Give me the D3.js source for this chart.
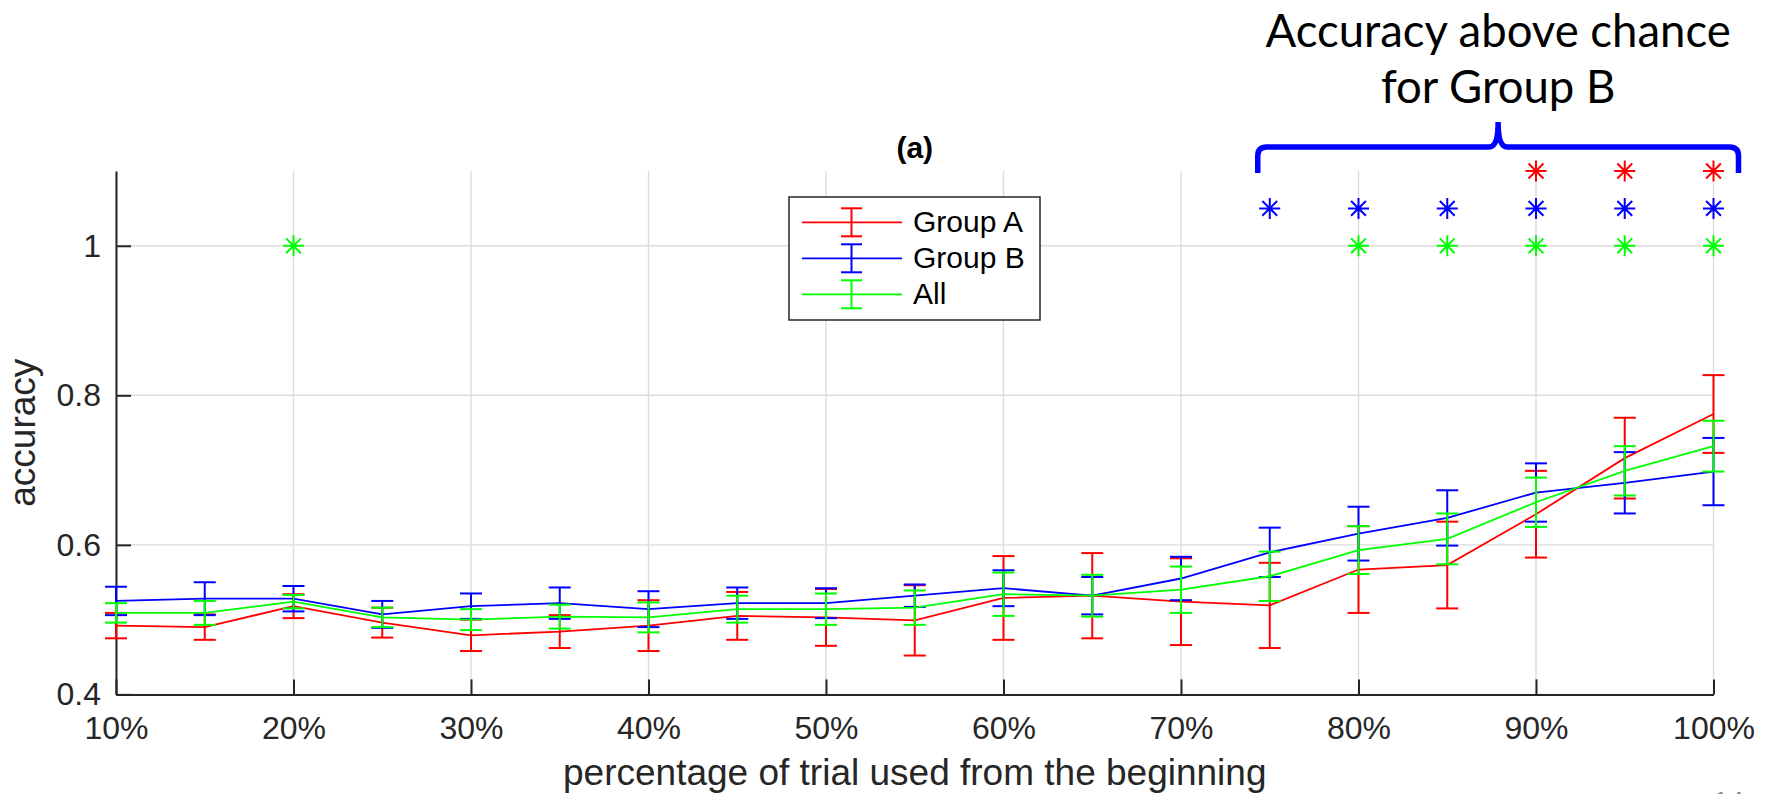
<!DOCTYPE html>
<html>
<head>
<meta charset="utf-8">
<script src="https://cdn.jsdelivr.net/npm/d3@7"></script>
<style>
  html, body { margin: 0; padding: 0; background: #fff; }
  svg { display: block; }
</style>
</head>
<body>
<svg id="chart" width="1768" height="794"></svg>
<script>
// Percentage of the trial used, from the beginning
const pct = [10, 15, 20, 25, 30, 35, 40, 45, 50, 55, 60, 65, 70, 75, 80, 85, 90, 95, 100];

// Mean accuracy and error-bar half widths per group
const groupA    = [0.492, 0.490, 0.518, 0.496, 0.479, 0.484, 0.492, 0.505, 0.503, 0.499, 0.529, 0.532, 0.524, 0.519, 0.567, 0.573, 0.641, 0.716, 0.775];
const groupAErr = [0.017, 0.017, 0.016, 0.020, 0.021, 0.022, 0.034, 0.032, 0.038, 0.047, 0.056, 0.057, 0.058, 0.057, 0.058, 0.058, 0.058, 0.054, 0.052];
const groupB    = [0.525, 0.528, 0.528, 0.507, 0.518, 0.522, 0.514, 0.522, 0.522, 0.532, 0.542, 0.532, 0.555, 0.590, 0.615, 0.636, 0.670, 0.683, 0.698];
const groupBErr = [0.019, 0.022, 0.017, 0.018, 0.017, 0.021, 0.024, 0.021, 0.020, 0.015, 0.024, 0.025, 0.029, 0.033, 0.036, 0.037, 0.039, 0.041, 0.045];
const groupAll    = [0.509, 0.509, 0.524, 0.503, 0.500, 0.504, 0.503, 0.514, 0.514, 0.516, 0.534, 0.532, 0.540, 0.558, 0.593, 0.608, 0.657, 0.699, 0.732];
const groupAllErr = [0.013, 0.016, 0.009, 0.013, 0.014, 0.016, 0.020, 0.018, 0.021, 0.023, 0.029, 0.028, 0.031, 0.033, 0.032, 0.034, 0.033, 0.033, 0.034];

// Percentages where accuracy is significantly above chance, and the row each is shown on
const sigA   = [90, 95, 100];
const sigB   = [75, 80, 85, 90, 95, 100];
const sigAll = [20, 80, 85, 90, 95, 100];
const sigRows = [1.1, 1.05, 1.0];

const seriesNames  = ["Group A", "Group B", "All"];
const seriesColors = ["#ff0000", "#0000ff", "#00ff00"];

const xTicks = [10, 20, 30, 40, 50, 60, 70, 80, 90, 100];
const yTicks = [0.4, 0.6, 0.8, 1.0];

const title = "(a)";
const xLabel = "percentage of trial used from the beginning";
const yLabel = "accuracy";
const noteLines = ["Accuracy above chance", "for Group B"];

// ---------------------------------------------------------------
const series = seriesNames.map((name, i) => ({
  name,
  color: seriesColors[i],
  mean: [groupA, groupB, groupAll][i],
  err: [groupAErr, groupBErr, groupAllErr][i],
  sig: [sigA, sigB, sigAll][i],
  sigY: sigRows[i]
}));

const svg = d3.select("#chart");
svg.append("rect").attr("width", 1768).attr("height", 794).attr("fill", "#fff");

const x = d3.scaleLinear().domain([10, 100]).range([116, 1713.5]);
const y = d3.scaleLinear().domain([0.4, 1.1]).range([694.4, 171]);

const axisColor = "#262626";
const font = "'Liberation Sans', Arial, Helvetica, sans-serif";

// grid
const grid = svg.append("g").attr("stroke", "#dcdcdc").attr("stroke-width", 1.4);
grid.selectAll("line.gx").data(xTicks).join("line")
  .attr("x1", d => x(d)).attr("x2", d => x(d))
  .attr("y1", y(1.1)).attr("y2", y(0.4));
grid.selectAll("line.gy").data(yTicks).join("line")
  .attr("x1", x(10)).attr("x2", x(100))
  .attr("y1", d => y(d)).attr("y2", d => y(d));

// axes (ticks point inward)
const xAxis = d3.axisBottom(x).tickValues(xTicks).tickFormat(d => d + "%")
  .tickSizeInner(-15).tickSizeOuter(0).tickPadding(22);
const yAxis = d3.axisLeft(y).tickValues(yTicks).tickFormat(d3.format("~g"))
  .tickSizeInner(-15).tickSizeOuter(0).tickPadding(15);

function styleAxis(g) {
  g.select(".domain").attr("stroke", axisColor).attr("stroke-width", 2);
  g.selectAll(".tick line").attr("stroke", axisColor).attr("stroke-width", 2);
  g.selectAll(".tick text").attr("fill", axisColor)
    .attr("font-family", font).attr("font-size", 32);
}
svg.append("g").attr("transform", `translate(0,${y(0.4)})`).call(xAxis).call(styleAxis);
svg.append("g").attr("transform", `translate(${x(10)},0)`).call(yAxis).call(styleAxis);

// axis labels and title
svg.append("text").text(xLabel)
  .attr("x", (x(10) + x(100)) / 2).attr("y", 785)
  .attr("text-anchor", "middle").attr("fill", axisColor)
  .attr("font-family", font).attr("font-size", 37);
svg.append("text").text(yLabel)
  .attr("transform", `translate(35,${(y(0.4) + y(1.1)) / 2}) rotate(-90)`)
  .attr("text-anchor", "middle").attr("fill", axisColor)
  .attr("font-family", font).attr("font-size", 37);
svg.append("text").text(title)
  .attr("x", (x(10) + x(100)) / 2).attr("y", 158)
  .attr("text-anchor", "middle").attr("fill", "#000")
  .attr("font-family", font).attr("font-weight", "bold").attr("font-size", 30);

// series: line with error bars
const capW = 11;
const line = d3.line().x((d, i) => x(pct[i])).y(d => y(d));
series.forEach(s => {
  const g = svg.append("g").attr("stroke", s.color).attr("fill", "none");
  g.append("path").attr("d", line(s.mean)).attr("stroke-width", 1.8);
  const bars = g.selectAll("g.bar").data(s.mean.map((m, i) => ({ p: pct[i], m, e: s.err[i] })))
    .join("g").attr("stroke-width", 2);
  bars.append("line")
    .attr("x1", d => x(d.p)).attr("x2", d => x(d.p))
    .attr("y1", d => y(d.m - d.e)).attr("y2", d => y(d.m + d.e));
  bars.append("line")
    .attr("x1", d => x(d.p) - capW).attr("x2", d => x(d.p) + capW)
    .attr("y1", d => y(d.m + d.e)).attr("y2", d => y(d.m + d.e));
  bars.append("line")
    .attr("x1", d => x(d.p) - capW).attr("x2", d => x(d.p) + capW)
    .attr("y1", d => y(d.m - d.e)).attr("y2", d => y(d.m - d.e));
});

// significance asterisks
const r = 10.5, rd = r * Math.SQRT1_2;
const starPath = `M${-r},0H${r}M0,${-r}V${r}M${-rd},${-rd}L${rd},${rd}M${-rd},${rd}L${rd},${-rd}`;
series.forEach(s => {
  svg.append("g").selectAll("path").data(s.sig).join("path")
    .attr("transform", d => `translate(${x(d)},${y(s.sigY)})`)
    .attr("d", starPath)
    .attr("stroke", s.color).attr("stroke-width", 2).attr("fill", "none");
});

// legend
const leg = svg.append("g");
leg.append("rect").attr("x", 789).attr("y", 197).attr("width", 251).attr("height", 123)
  .attr("fill", "#fff").attr("stroke", axisColor).attr("stroke-width", 1.5);
const rowY = i => 222.3 + i * 36;
series.forEach((s, i) => {
  const g = leg.append("g").attr("stroke", s.color).attr("stroke-width", 2);
  g.append("line").attr("x1", 802).attr("x2", 902).attr("y1", rowY(i)).attr("y2", rowY(i)).attr("stroke-width", 1.8);
  g.append("line").attr("x1", 851.5).attr("x2", 851.5).attr("y1", rowY(i) - 14).attr("y2", rowY(i) + 14);
  g.append("line").attr("x1", 841).attr("x2", 862).attr("y1", rowY(i) - 14).attr("y2", rowY(i) - 14);
  g.append("line").attr("x1", 841).attr("x2", 862).attr("y1", rowY(i) + 14).attr("y2", rowY(i) + 14);
  leg.append("text").text(s.name).attr("x", 913).attr("y", rowY(i) + 10)
    .attr("fill", "#000").attr("font-family", font).attr("font-size", 30);
});

// brace spanning the Group B significant range, with its note
const bx0 = x(sigB[0]) - 12, bx1 = x(100) + 25, bc = (bx0 + bx1) / 2;
const bBottom = y(1.1) + 2, bMid = 147, bTop = 122;
const brace = `M${bx0},${bBottom} V${bMid + 9} Q${bx0},${bMid} ${bx0 + 9},${bMid}` +
  ` H${bc - 9} Q${bc},${bMid} ${bc},${bTop} Q${bc},${bMid} ${bc + 9},${bMid}` +
  ` H${bx1 - 9} Q${bx1},${bMid} ${bx1},${bMid + 9} V${bBottom}`;
svg.append("path").attr("d", brace).attr("fill", "none")
  .attr("stroke", "#0000ff").attr("stroke-width", 5.5);

svg.append("g").selectAll("text").data(noteLines).join("text")
  .text(d => d)
  .attr("x", bc).attr("y", (d, i) => 47 + i * 56)
  .attr("text-anchor", "middle").attr("fill", "#000")
  .attr("font-family", "Lato, 'Open Sans', sans-serif").attr("font-size", 45.5);

// slide number, sitting at the bottom edge of the page
svg.append("text").text("14").attr("x", 1713).attr("y", 811)
  .attr("fill", "#8c8c8c").attr("font-family", font).attr("font-size", 28);
</script>
</body>
</html>
